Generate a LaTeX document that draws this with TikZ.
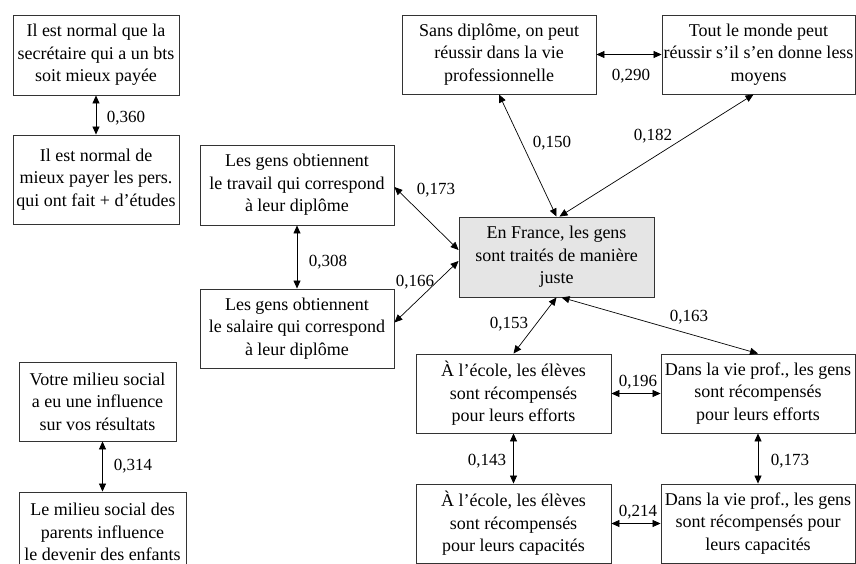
\documentclass[tikz,border=0pt]{standalone}
\usepackage{fontspec}
\setmainfont{Liberation Serif}
\usetikzlibrary{arrows.meta}
\begin{document}
\begin{tikzpicture}[x=1pt,y=-1pt,
  box/.style={draw=black!80,line width=0.9pt,inner sep=0pt,align=center,
    font=\fontsize{18}{22.5}\selectfont},
  val/.style={inner sep=0pt,font=\fontsize{17}{20}\selectfont},
  link/.style={line width=0.7pt,{Triangle[length=8pt,width=7pt]}-{Triangle[length=8pt,width=7pt]}}]
\useasboundingbox (0,0) rectangle (856,564);
\clip (0,0) rectangle (856,564);
% boxes
\node[box,minimum width=166pt,minimum height=80pt] (A) at (96,55) {Il est normal que la\\secrétaire qui a un bts\\soit mieux payée};
\node[box,minimum width=166pt,minimum height=89pt] (B) at (96,179.5) {Il est normal de\\mieux payer les pers.\\qui ont fait + d’études};
\node[box,minimum width=194pt,minimum height=80pt] (C) at (297,185) {Les gens obtiennent\\le travail qui correspond\\à leur diplôme};
\node[box,minimum width=194pt,minimum height=79pt] (D) at (297,328.5) {Les gens obtiennent\\le salaire qui correspond\\à leur diplôme};
\node[box,fill=black!10,minimum width=195pt,minimum height=80pt] (E) at (556.5,257) {En France, les gens\\sont traités de manière\\juste};
\node[box,minimum width=194pt,minimum height=79pt] (F) at (499,54.5) {Sans diplôme, on peut\\réussir dans la vie\\professionnelle};
\node[box,minimum width=193pt,minimum height=79pt] (G) at (758.5,54.5) {Tout le monde peut\\réussir s’il s’en donne less\\moyens};
\node[box,minimum width=195pt,minimum height=79pt] (H) at (513.5,393.5) {À l’école, les élèves\\sont récompensés\\pour leurs efforts};
\node[box,minimum width=194pt,minimum height=79pt] (I) at (758,393.5) {Dans la vie prof., les gens\\sont récompensés\\pour leurs efforts};
\node[box,minimum width=195pt,minimum height=79pt] (J) at (513.5,523.5) {À l’école, les élèves\\sont récompensés\\pour leurs capacités};
\node[box,minimum width=194pt,minimum height=79pt] (K) at (758,523.5) {Dans la vie prof., les gens\\sont récompensés pour\\leurs capacités};
\node[box,minimum width=157pt,minimum height=79pt] (L) at (97.5,401.5) {Votre milieu social\\a eu une influence\\sur vos résultats};
\node[box,minimum width=167pt,minimum height=80pt] (M) at (102.5,532) {Le milieu social des\\parents influence\\le devenir des enfants};
% connectors
\draw[link] (A) -- (B);
\draw[link] (C) -- (D);
\draw[link] ([yshift=-2pt]C.east) -- ([yshift=7pt]E.west);
\draw[link] ([yshift=-4pt]E.west) -- ([yshift=6pt]D.east);
\draw[link] (F) -- (G);
\draw[link] (F.south) -- (E.north);
\draw[link] ([xshift=-5pt]G.south) -- ([xshift=3pt]E.north);
\draw[link] (E.south) -- (H.north);
\draw[link] ([xshift=5pt]E.south) -- (I.north);
\draw[link] (H) -- (I);
\draw[link] (H) -- (J);
\draw[link] (I) -- (K);
\draw[link] (J) -- (K);
\draw[link] (M.north |- L.south) -- (M.north);
% values
\node[val] (vAB) at (126,118) {0,360};
\node[val] (vCD) at (328,262) {0,308};
\node[val] (vCE) at (436,190) {0,173};
\node[val] (vDE) at (415,282) {0,166};
\node[val] (vFE) at (552,143) {0,150};
\node[val] (vGE) at (653,136) {0,182};
\node[val] (vFG) at (631,76) {0,290};
\node[val] (vEH) at (509,324) {0,153};
\node[val] (vEI) at (689,317) {0,163};
\node[val] (vHI) at (638,382) {0,196};
\node[val] (vHJ) at (487,461) {0,143};
\node[val] (vIK) at (790,461) {0,173};
\node[val] (vJK) at (638,512) {0,214};
\node[val] (vLM) at (133,466) {0,314};
\end{tikzpicture}
\end{document}
